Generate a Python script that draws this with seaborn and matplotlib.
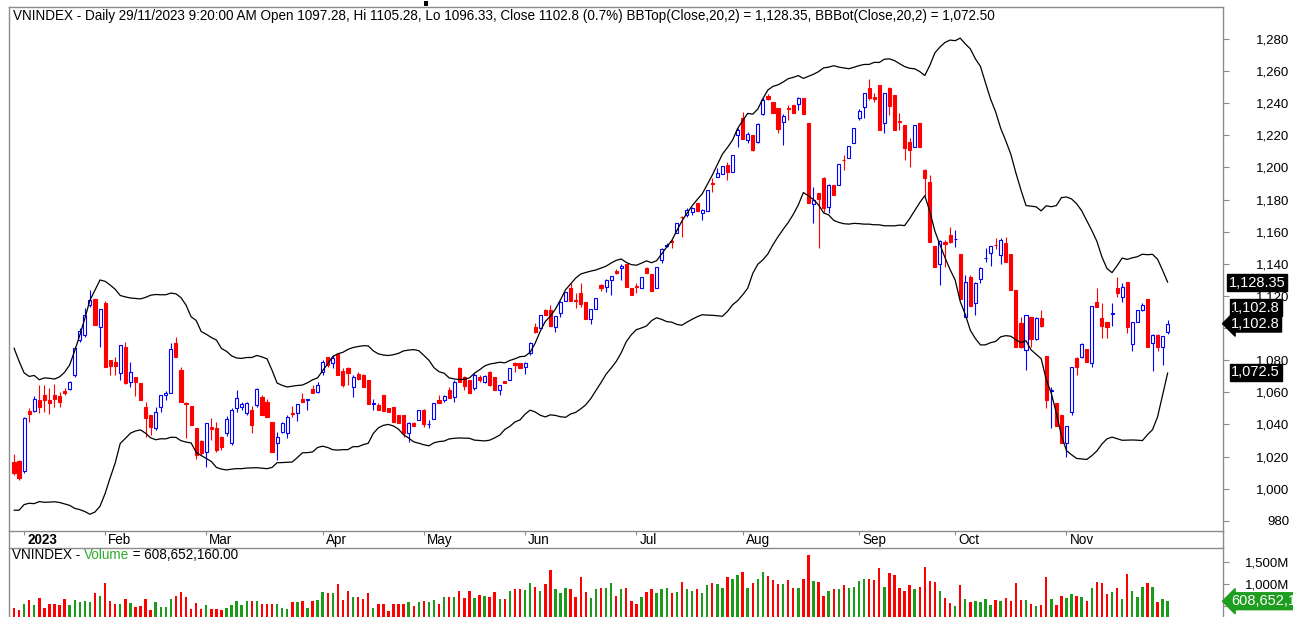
import numpy as np
import pandas as pd
import matplotlib
matplotlib.use("Agg")
import matplotlib.pyplot as plt
import seaborn as sns
from matplotlib.transforms import ScaledTranslation
from matplotlib.lines import Line2D
from matplotlib.patches import Rectangle

# ---------------- data ----------------
open_ = [
    1016.8, 1017.2, 1011.2, 1048.6, 1048.6, 1055.2, 1058.3, 1055.2, 1058.3, 1058.0,
    1061.0, 1061.9, 1070.8, 1092.6, 1095.7, 1114.4, 1118.1, 1100.9, 1115.4, 1080.1,
    1079.0, 1072.2, 1088.4, 1066.6, 1069.7, 1066.0, 1051.0, 1045.9, 1037.6, 1051.0,
    1058.3, 1059.4, 1090.5, 1073.9, 1053.5, 1051.5, 1037.6, 1029.9, 1023.0, 1038.6,
    1037.6, 1032.0, 1034.4, 1028.2, 1050.0, 1050.7, 1046.9, 1049.0, 1052.1, 1057.3,
    1054.2, 1041.7, 1028.6, 1035.5, 1034.5, 1047.3, 1047.3, 1055.6, 1055.2, 1061.9,
    1060.4, 1072.8, 1081.8, 1078.0, 1083.9, 1073.5, 1074.9, 1063.1, 1071.4, 1070.8,
    1067.7, 1052.7, 1052.1, 1058.3, 1050.0, 1050.7, 1045.9, 1045.9, 1034.5, 1041.1,
    1042.8, 1049.0, 1040.0, 1043.4, 1055.2, 1055.2, 1061.4, 1057.3, 1074.9, 1069.3,
    1067.7, 1062.5, 1069.3, 1066.6, 1072.9, 1069.3, 1061.4, 1067.3, 1067.7, 1078.5,
    1078.5, 1076.0, 1084.3, 1100.9, 1099.9, 1111.3, 1111.3, 1100.9, 1109.6, 1117.1,
    1124.8, 1117.3, 1121.6, 1116.4, 1105.4, 1111.7, 1126.8, 1125.8, 1129.9, 1135.3,
    1137.7, 1139.7, 1124.8, 1125.9, 1124.8, 1137.2, 1133.7, 1124.8, 1142.4, 1151.1,
    1154.0, 1159.0, 1169.2, 1170.4, 1172.5, 1177.7, 1171.9, 1173.1, 1190.2, 1194.3,
    1196.0, 1201.6, 1197.4, 1220.3, 1230.6, 1217.3, 1220.0, 1216.1, 1233.2, 1244.8,
    1241.0, 1236.9, 1228.5, 1237.0, 1238.9, 1239.5, 1243.0, 1227.5, 1177.2, 1184.3,
    1193.2, 1175.1, 1189.0, 1189.0, 1204.8, 1205.6, 1215.4, 1230.6, 1237.4, 1249.2,
    1243.6, 1251.3, 1227.5, 1249.2, 1245.1, 1229.0, 1226.4, 1216.0, 1212.5, 1227.5,
    1198.4, 1191.2, 1151.1, 1139.9, 1153.8, 1157.9, 1155.4, 1146.1, 1107.1, 1131.6,
    1115.4, 1130.3, 1143.6, 1146.5, 1151.9, 1145.5, 1153.2, 1146.1, 1123.7, 1102.9,
    1086.3, 1106.7, 1092.9, 1106.0, 1082.6, 1060.6, 1053.5, 1045.9, 1028.6, 1047.9,
    1081.1, 1081.8, 1086.7, 1078.4, 1116.4, 1106.0, 1104.0, 1109.0, 1124.7, 1119.5,
    1128.9, 1090.1, 1104.0, 1111.3, 1117.9, 1090.9, 1095.7, 1088.4, 1097.28,
]
high = [
    1021.4, 1018.0, 1044.5, 1050.0, 1057.7, 1064.5, 1064.5, 1062.5, 1065.2, 1060.0,
    1063.0, 1067.3, 1088.4, 1099.8, 1112.3, 1123.7, 1118.1, 1111.7, 1116.9, 1080.1,
    1082.2, 1089.5, 1091.5, 1079.1, 1069.7, 1066.0, 1054.0, 1045.9, 1051.0, 1058.3,
    1061.0, 1090.5, 1094.5, 1076.0, 1054.2, 1051.5, 1037.6, 1030.5, 1040.7, 1043.8,
    1041.7, 1033.0, 1045.0, 1050.0, 1061.4, 1054.0, 1054.2, 1051.5, 1062.5, 1058.3,
    1056.0, 1041.7, 1035.5, 1041.7, 1045.9, 1051.5, 1052.7, 1059.4, 1056.0, 1064.5,
    1066.6, 1080.1, 1082.2, 1083.2, 1084.3, 1075.0, 1076.0, 1070.8, 1072.5, 1071.4,
    1067.7, 1055.6, 1053.1, 1058.3, 1050.0, 1050.7, 1045.9, 1045.9, 1041.7, 1041.7,
    1049.0, 1049.4, 1042.8, 1053.5, 1058.3, 1058.3, 1063.1, 1067.7, 1076.0, 1070.2,
    1067.7, 1071.8, 1070.8, 1070.8, 1073.5, 1069.3, 1064.5, 1067.3, 1074.9, 1079.0,
    1078.5, 1079.0, 1091.5, 1103.0, 1108.2, 1111.7, 1114.4, 1107.5, 1117.1, 1122.7,
    1128.3, 1121.6, 1128.3, 1116.4, 1111.7, 1118.5, 1127.3, 1130.3, 1132.4, 1136.5,
    1139.7, 1139.7, 1124.8, 1128.3, 1132.0, 1138.2, 1133.7, 1137.8, 1149.7, 1152.7,
    1155.9, 1165.2, 1169.6, 1174.5, 1175.6, 1177.7, 1173.9, 1186.0, 1193.3, 1199.5,
    1201.0, 1203.6, 1207.8, 1224.3, 1234.5, 1222.3, 1220.3, 1227.5, 1243.0, 1246.0,
    1241.0, 1236.9, 1233.0, 1239.0, 1238.9, 1243.6, 1243.0, 1227.5, 1188.0, 1184.3,
    1194.2, 1190.0, 1189.0, 1202.1, 1207.7, 1213.3, 1224.3, 1236.2, 1246.6, 1254.9,
    1246.6, 1251.3, 1246.6, 1250.3, 1245.1, 1233.7, 1226.4, 1218.1, 1226.4, 1227.5,
    1199.0, 1195.3, 1151.1, 1154.8, 1154.8, 1163.1, 1161.0, 1146.1, 1133.0, 1133.0,
    1128.9, 1137.8, 1149.6, 1151.1, 1155.9, 1155.9, 1156.9, 1146.1, 1123.7, 1107.1,
    1108.1, 1107.1, 1106.7, 1111.3, 1082.6, 1063.5, 1053.5, 1045.9, 1039.0, 1075.5,
    1082.2, 1090.5, 1086.7, 1113.7, 1124.7, 1115.4, 1104.0, 1115.4, 1132.0, 1127.9,
    1128.9, 1104.0, 1111.3, 1115.4, 1117.9, 1096.3, 1096.3, 1095.1, 1105.28,
]
low = [
    1008.5, 1005.4, 1010.0, 1041.7, 1048.0, 1047.0, 1048.0, 1046.3, 1051.0, 1051.0,
    1058.3, 1061.4, 1069.8, 1091.5, 1094.7, 1113.3, 1101.9, 1088.4, 1075.6, 1070.8,
    1070.8, 1067.7, 1065.2, 1063.5, 1058.0, 1055.0, 1032.4, 1033.4, 1036.5, 1047.9,
    1055.0, 1059.4, 1082.2, 1054.2, 1031.3, 1039.6, 1018.5, 1021.0, 1013.7, 1030.3,
    1023.0, 1024.0, 1033.0, 1027.0, 1048.0, 1049.0, 1045.9, 1034.9, 1051.0, 1045.9,
    1044.8, 1023.0, 1017.9, 1034.5, 1031.4, 1044.8, 1042.3, 1054.2, 1049.0, 1059.4,
    1059.4, 1070.8, 1076.0, 1074.9, 1070.8, 1063.5, 1064.5, 1057.3, 1067.7, 1063.1,
    1052.7, 1049.0, 1049.0, 1048.6, 1047.9, 1041.7, 1041.1, 1032.4, 1029.3, 1039.0,
    1042.8, 1038.6, 1037.6, 1043.4, 1053.5, 1054.2, 1056.3, 1054.2, 1066.6, 1061.4,
    1059.8, 1061.4, 1066.6, 1066.0, 1063.9, 1061.4, 1058.3, 1065.6, 1067.7, 1072.9,
    1074.9, 1071.4, 1083.2, 1096.8, 1099.9, 1108.2, 1101.3, 1097.8, 1107.0, 1117.1,
    1117.1, 1112.3, 1113.3, 1105.4, 1102.5, 1111.7, 1123.3, 1122.7, 1120.6, 1133.7,
    1129.9, 1125.8, 1120.6, 1121.6, 1124.8, 1134.1, 1123.3, 1124.8, 1140.7, 1150.7,
    1149.7, 1159.0, 1157.0, 1169.4, 1170.4, 1173.1, 1167.3, 1173.1, 1185.0, 1193.9,
    1196.0, 1192.2, 1197.4, 1213.0, 1217.5, 1215.0, 1210.0, 1215.0, 1232.5, 1242.0,
    1233.7, 1221.3, 1214.0, 1229.6, 1233.7, 1235.8, 1233.3, 1178.0, 1165.2, 1149.6,
    1172.4, 1171.4, 1182.8, 1189.0, 1198.4, 1205.6, 1215.4, 1229.5, 1230.6, 1242.0,
    1241.0, 1223.3, 1221.2, 1232.6, 1223.3, 1223.3, 1204.6, 1200.5, 1212.5, 1212.5,
    1182.0, 1153.8, 1137.8, 1126.8, 1138.3, 1152.7, 1150.7, 1117.9, 1107.1, 1113.7,
    1108.1, 1127.8, 1141.3, 1138.6, 1149.0, 1139.9, 1141.3, 1123.7, 1088.4, 1087.4,
    1073.9, 1088.4, 1092.5, 1100.9, 1050.0, 1037.5, 1039.0, 1028.2, 1019.9, 1045.9,
    1070.8, 1081.2, 1079.0, 1075.9, 1113.3, 1093.6, 1093.6, 1101.3, 1119.5, 1116.4,
    1096.8, 1086.0, 1104.0, 1110.8, 1088.4, 1073.4, 1086.0, 1077.0, 1096.33,
]
close = [
    1009.5, 1006.4, 1043.8, 1046.5, 1055.6, 1051.1, 1055.2, 1053.5, 1055.6, 1054.0,
    1059.8, 1066.6, 1087.8, 1098.4, 1108.1, 1117.5, 1101.9, 1111.7, 1075.6, 1076.4,
    1076.4, 1089.5, 1065.6, 1072.4, 1066.6, 1055.2, 1043.8, 1038.6, 1047.9, 1058.3,
    1059.5, 1087.0, 1082.2, 1054.2, 1053.0, 1039.6, 1020.9, 1022.0, 1040.7, 1037.0,
    1024.1, 1026.0, 1043.2, 1049.0, 1056.3, 1052.7, 1053.1, 1039.6, 1061.9, 1045.9,
    1044.8, 1023.0, 1032.4, 1040.7, 1044.8, 1046.5, 1052.7, 1054.2, 1056.0, 1059.4,
    1064.5, 1079.1, 1077.0, 1081.2, 1070.8, 1064.5, 1071.8, 1069.3, 1068.1, 1063.1,
    1052.7, 1053.1, 1049.0, 1048.6, 1047.9, 1041.7, 1041.1, 1034.5, 1040.7, 1039.0,
    1049.0, 1040.3, 1040.4, 1053.5, 1053.5, 1057.9, 1056.3, 1066.6, 1066.6, 1063.9,
    1059.8, 1070.8, 1067.7, 1070.2, 1064.5, 1061.4, 1064.5, 1065.6, 1074.9, 1077.0,
    1074.9, 1078.5, 1090.9, 1097.8, 1108.2, 1108.2, 1101.3, 1107.5, 1116.4, 1122.7,
    1117.1, 1117.0, 1115.0, 1105.4, 1111.7, 1118.5, 1124.8, 1129.9, 1132.4, 1134.6,
    1138.6, 1125.8, 1120.6, 1125.6, 1132.0, 1134.5, 1123.3, 1137.8, 1149.0, 1151.7,
    1153.8, 1165.2, 1169.0, 1173.5, 1174.6, 1173.1, 1173.5, 1186.0, 1189.8, 1196.4,
    1201.0, 1197.4, 1207.8, 1223.4, 1217.5, 1220.9, 1210.6, 1226.9, 1241.8, 1242.8,
    1233.7, 1224.0, 1232.0, 1236.6, 1233.7, 1243.0, 1233.3, 1178.0, 1179.7, 1180.1,
    1174.5, 1189.0, 1182.8, 1202.1, 1204.4, 1213.3, 1224.3, 1235.3, 1246.1, 1243.0,
    1242.6, 1223.3, 1246.1, 1238.2, 1223.3, 1228.5, 1211.9, 1210.8, 1226.4, 1212.5,
    1193.2, 1153.8, 1137.8, 1154.2, 1152.3, 1153.8, 1155.6, 1117.9, 1128.9, 1113.7,
    1128.3, 1137.2, 1143.8, 1151.1, 1151.5, 1154.8, 1141.3, 1123.7, 1088.4, 1088.4,
    1108.1, 1092.9, 1106.0, 1101.3, 1055.2, 1061.6, 1039.0, 1028.2, 1039.0, 1075.5,
    1075.9, 1090.0, 1079.0, 1113.7, 1113.3, 1101.3, 1100.4, 1109.2, 1121.6, 1125.8,
    1100.9, 1104.0, 1111.3, 1114.4, 1088.4, 1095.7, 1088.0, 1095.1, 1102.8,
]
# volume in millions of shares
volume_m = [
    454, 402, 550, 639, 528, 690, 454, 543, 543, 513,
    661, 513, 631, 602, 609, 602, 787, 735, 1016, 624,
    550, 550, 661, 572, 469, 491, 661, 402, 587, 469,
    469, 661, 735, 809, 713, 439, 565, 439, 528, 424,
    439, 402, 461, 513, 609, 513, 624, 624, 624, 550,
    550, 550, 550, 461, 439, 587, 587, 624, 461, 624,
    639, 809, 794, 794, 993, 639, 846, 698, 705, 661,
    787, 461, 550, 550, 380, 550, 550, 550, 587, 491,
    587, 624, 587, 646, 550, 713, 713, 713, 831, 676,
    831, 676, 757, 720, 713, 809, 661, 661, 831, 897,
    897, 853, 1016, 942, 831, 993, 1311, 897, 787, 912,
    883, 713, 1156, 823, 690, 897, 900, 900, 1016, 720,
    883, 905, 624, 550, 698, 809, 897, 787, 883, 919,
    787, 809, 1045, 897, 831, 883, 787, 971, 1030, 993,
    905, 1156, 1104, 1200, 1274, 919, 1030, 1104, 1274, 1178,
    1082, 993, 993, 1082, 905, 919, 1104, 1658, 1060, 1038,
    735, 846, 883, 883, 971, 905, 942, 1060, 1104, 1104,
    1082, 1363, 942, 1252, 1208, 905, 831, 971, 883, 942,
    1392, 1060, 1038, 846, 690, 572, 498, 971, 661, 602,
    624, 602, 661, 528, 646, 624, 676, 617, 1016, 639,
    639, 550, 498, 528, 1156, 661, 528, 735, 676, 764,
    735, 698, 624, 919, 1045, 1016, 764, 809, 919, 661,
    1230, 831, 713, 942, 1016, 942, 602, 661, 609,
]
# closes of the 19 sessions before the first candle (Bollinger warm-up)
dec2022_close = [1088, 1082, 1060, 1052, 1065, 1048, 1055, 1058, 1045, 1040,
                 1030, 1018, 1010, 1015, 1022, 1025, 1012, 1005, 1002]

month_labels = ['2023', 'Feb', 'Mar', 'Apr', 'May', 'Jun', 'Jul', 'Aug', 'Sep', 'Oct', 'Nov']
month_start_idx = [2, 18, 38, 61, 81, 101, 123, 144, 167, 186, 208]
price_ticks = [980, 1000, 1020, 1040, 1060, 1080, 1100, 1120, 1140, 1160,
               1180, 1200, 1220, 1240, 1260, 1280]
hidden_price_ticks = [1100]          # label sits under the close marker
vol_ticks = [500, 1000, 1500]
vol_tick_labels = ['', '1,000M', '1,500M']   # 500M sits under the volume marker
bb_top_last = 1128.35
bb_bot_last = 1072.50
last_volume_m = 608.65216

title_text = ("VNINDEX - Daily 29/11/2023 9:20:00 AM Open 1097.28, Hi 1105.28, Lo 1096.33, "
              "Close 1102.8 (0.7%) BBTop(Close,20,2) = 1,128.35, BBBot(Close,20,2) = 1,072.50")

# ---------------- derived ----------------
n = len(close)
assert len(open_) == n == len(high) == len(low) == len(volume_m) == 229
df = pd.DataFrame({'idx': np.arange(n), 'open': open_, 'high': high,
                   'low': low, 'close': close, 'vol': volume_m})
df['up'] = df['close'] >= df['open']
df['body_lo'] = df[['open', 'close']].min(axis=1)
df['body_h'] = (df['close'] - df['open']).abs()
df['dir'] = np.where(df['up'], 'up', 'down')

allc = pd.Series(dec2022_close + close, dtype=float)
mid = allc.rolling(20).mean()
sd = allc.rolling(20).std(ddof=0)
df['bb_top'] = (mid + 2 * sd).iloc[len(dec2022_close):].to_numpy()
df['bb_bot'] = (mid - 2 * sd).iloc[len(dec2022_close):].to_numpy()

# ---------------- style ----------------
sns.set_theme(style="white")
plt.rcParams['font.family'] = ['Liberation Sans', 'DejaVu Sans']
BLUE = '#0000FF'
RED = '#FF0000'
GREEN = '#1A9C1A'
BORDER = '#8C8C8C'
FS = 9.75

W, H = 1293, 617
fig = plt.figure(figsize=(W / 100, H / 100), dpi=100)
fig.patch.set_facecolor('white')


def fx(px):
    return px / W


def fy(py):
    return 1 - py / H


L_PX, R_PX = 9, 1223
ax = fig.add_axes([fx(L_PX), fy(531), fx(R_PX) - fx(L_PX), fy(7) - fy(531)])
axv = fig.add_axes([fx(L_PX), fy(628), fx(R_PX) - fx(L_PX), fy(548) - fy(628)])

# ---------------- price panel ----------------
up = df[df['up']]
dn = df[~df['up']]
ax.vlines(up['idx'], up['low'], up['high'], color=BLUE, lw=0.8, zorder=2)
ax.vlines(dn['idx'], dn['low'], dn['high'], color=RED, lw=0.8, zorder=2)
ax.bar(up['idx'], up['body_h'], bottom=up['body_lo'], width=0.6,
       facecolor='white', edgecolor=BLUE, linewidth=0.8, zorder=3)
ax.bar(dn['idx'], dn['body_h'], bottom=dn['body_lo'], width=0.62,
       facecolor=RED, edgecolor=RED, linewidth=0.8, zorder=3)

sns.lineplot(data=df, x='idx', y='bb_top', ax=ax, color='black', lw=0.9,
             estimator=None, zorder=4)
sns.lineplot(data=df, x='idx', y='bb_bot', ax=ax, color='black', lw=0.9,
             estimator=None, zorder=4)

x0 = (L_PX - 14) / 5.06
x1 = (R_PX - 14) / 5.06
ax.set_xlim(x0, x1)
ax.set_ylim(1280 - (531 - 39) / 1.606, 1280 + (39 - 7) / 1.606)
ax.set_xlabel('')
ax.set_ylabel('')

ax.yaxis.tick_right()
ax.set_yticks(price_ticks)
ax.set_yticklabels(['' if t in hidden_price_ticks else f'{t:,}' for t in price_ticks])
ax.tick_params(axis='y', which='both', right=True, left=False, direction='out',
               length=4, width=0.8, color=BORDER, pad=44, labelsize=9.5,
               labelcolor='black')
for lbl in ax.get_yticklabels():
    lbl.set_horizontalalignment('right')

ax.set_xticks(month_start_idx)
ax.set_xticklabels(month_labels)
ax.tick_params(axis='x', bottom=True, direction='out', length=3, width=0.8,
               color=BORDER, pad=-1.5, labelsize=FS, labelcolor='black')
shift = ScaledTranslation(3 / 100, 0, fig.dpi_scale_trans)
for lbl in ax.get_xticklabels():
    lbl.set_horizontalalignment('left')
    lbl.set_transform(lbl.get_transform() + shift)
ax.get_xticklabels()[0].set_fontweight('bold')

for sp in ax.spines.values():
    sp.set_color(BORDER)
    sp.set_linewidth(1)
ax.grid(False)

# ---------------- volume panel ----------------
sns.barplot(data=df, x='idx', y='vol', hue='dir', palette={'up': GREEN, 'down': RED},
            native_scale=True, dodge=False, width=0.48, errorbar=None, legend=False,
            saturation=1, linewidth=0, ax=axv)
axv.set_xlim(x0, x1)
axv.set_ylim(0, 80 / 22 * 500)
axv.set_xlabel('')
axv.set_ylabel('')
axv.set_xticks([])
axv.yaxis.tick_right()
axv.set_yticks(vol_ticks)
axv.set_yticklabels(vol_tick_labels)
axv.tick_params(axis='y', which='both', right=True, left=False, direction='out',
                length=4, width=0.8, color=BORDER, pad=44, labelsize=9.5,
                labelcolor='black')
for lbl in axv.get_yticklabels():
    lbl.set_horizontalalignment('right')
for sp in axv.spines.values():
    sp.set_color(BORDER)
    sp.set_linewidth(1)
axv.spines['bottom'].set_visible(False)
axv.grid(False)

# connecting borders through the date strip
for xp in (L_PX, R_PX):
    fig.add_artist(Line2D([fx(xp), fx(xp)], [fy(531), fy(548)], color=BORDER, lw=1,
                          transform=fig.transFigure))

# ---------------- texts ----------------
fig.text(fx(13), fy(16), title_text, ha='left', va='center', fontsize=FS, color='black')

t1 = fig.text(fx(12), fy(562), 'VNINDEX - ', ha='left', va='bottom', fontsize=FS,
              color='black')
t2 = axv.annotate('Volume', xy=(1, 0), xycoords=t1, ha='left', va='bottom',
                  fontsize=FS, color='#2EAA2E', annotation_clip=False)
axv.annotate(' = 608,652,160.00', xy=(1, 0), xycoords=t2, ha='left', va='bottom',
             fontsize=FS, color='black', annotation_clip=False)

# small mark at top centre
fig.add_artist(Rectangle((fx(424), fy(6)), 4 / W, 5 / H, transform=fig.transFigure,
                         facecolor='black', edgecolor='none'))


def fmt(v):
    s = f'{v:,.2f}'
    return s.rstrip('0').rstrip('.')


def marker(axis, val, text, fc, style, dx_pt, dy_pt=0):
    axis.annotate(text, xy=(1, val), xycoords=('axes fraction', 'data'),
                  xytext=(dx_pt, dy_pt), textcoords='offset points',
                  ha='left', va='center', color='white', fontsize=10.5,
                  bbox=dict(boxstyle=style, fc=fc, ec=fc),
                  annotation_clip=False, zorder=30)


last_close = close[-1]
marker(ax, bb_top_last, fmt(bb_top_last), 'black', 'square,pad=0.1', 4)
marker(ax, last_close, fmt(last_close), 'black', 'square,pad=0.1', 6, 11.5)
marker(ax, last_close, fmt(last_close), 'black', 'larrow,pad=0.1', 6)
marker(ax, bb_bot_last, fmt(bb_bot_last), 'black', 'square,pad=0.1', 6)
marker(axv, last_volume_m, f'{last_volume_m * 1e6:,.0f}', '#1E9E1E', 'larrow,pad=0.1', 6)

fig.savefig('out.png', dpi=100)
